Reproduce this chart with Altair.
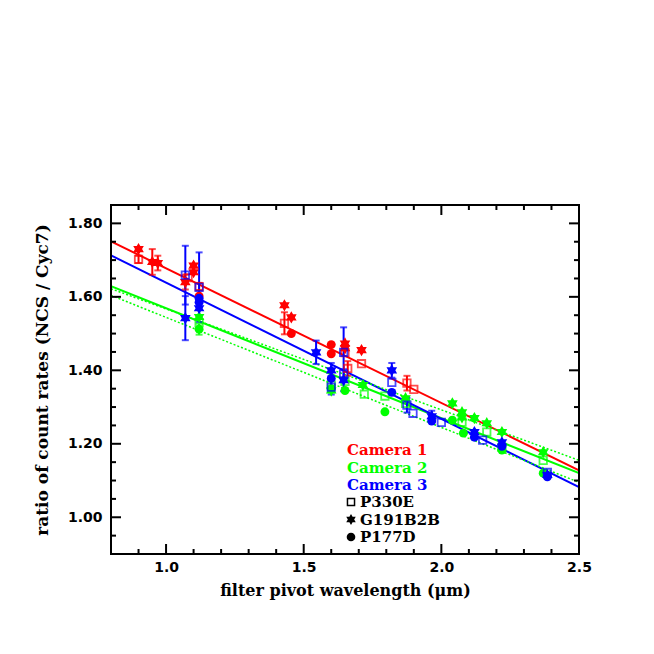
import altair as alt
import pandas as pd

# ---------------- data ----------------
cams = ["Camera 1", "Camera 2", "Camera 3"]
cam_colors = ["#ff0000", "#00ff00", "#0000ff"]
stars = ["P330E", "G191B2B", "P177D"]

# Camera 1 (red)
c1_x = [0.90, 0.90, 0.95, 0.97, 1.07, 1.08, 1.10, 1.10, 1.12, 1.12,
        1.43, 1.43, 1.455, 1.455, 1.60, 1.60, 1.65, 1.65, 1.65, 1.66,
        1.71, 1.71, 1.875, 1.90]
c1_y = [1.730, 1.702, 1.695, 1.692, 1.640, 1.652, 1.685, 1.667, 1.628, 1.602,
        1.577, 1.528, 1.544, 1.500, 1.470, 1.445, 1.473, 1.460, 1.448, 1.405,
        1.455, 1.418, 1.365, 1.348]
c1_s = ["G191B2B", "P330E", "G191B2B", "G191B2B", "G191B2B", "P330E", "G191B2B", "G191B2B", "P330E", "P177D",
        "G191B2B", "P330E", "G191B2B", "P177D", "P177D", "P177D", "G191B2B", "G191B2B", "P330E", "P330E",
        "G191B2B", "P330E", "P330E", "P330E"]
c1_e = [0.0, 0.01, 0.035, 0.02, 0.02, 0.0, 0.0, 0.0, 0.01, 0.0,
        0.0, 0.03, 0.0, 0.0, 0.0, 0.0, 0.0, 0.0, 0.0, 0.02,
        0.0, 0.0, 0.02, 0.0]

# Camera 2 (green)
c2_x = [1.12, 1.12, 1.12, 1.60, 1.60, 1.60, 1.65, 1.65, 1.715, 1.72,
        1.795, 1.795, 1.87, 1.87, 2.04, 2.04, 2.075, 2.075, 2.075, 2.08,
        2.12, 2.165, 2.165, 2.22, 2.22, 2.22, 2.37, 2.37, 2.37]
c2_y = [1.545, 1.530, 1.512, 1.360, 1.350, 1.345, 1.370, 1.345, 1.360, 1.335,
        1.330, 1.287, 1.324, 1.310, 1.310, 1.264, 1.286, 1.272, 1.259, 1.229,
        1.270, 1.256, 1.232, 1.232, 1.190, 1.183, 1.177, 1.155, 1.120]
c2_s = ["G191B2B", "P330E", "P177D", "P330E", "P177D", "G191B2B", "P330E", "P177D", "G191B2B", "P330E",
        "P330E", "P177D", "G191B2B", "P330E", "G191B2B", "P177D", "G191B2B", "G191B2B", "P330E", "P177D",
        "G191B2B", "G191B2B", "P330E", "G191B2B", "P330E", "P177D", "G191B2B", "P330E", "P177D"]
c2_e = [0.0, 0.0, 0.015, 0.02, 0.0, 0.0, 0.0, 0.0, 0.0, 0.0,
        0.0, 0.0, 0.0, 0.0, 0.0, 0.0, 0.0, 0.0, 0.0, 0.0,
        0.0, 0.0, 0.0, 0.0, 0.0, 0.0, 0.0, 0.0, 0.0]

# Camera 3 (blue)
c3_x = [1.07, 1.07, 1.12, 1.12, 1.12, 1.12, 1.545, 1.60, 1.60, 1.60,
        1.645, 1.645, 1.645, 1.82, 1.82, 1.82, 1.875, 1.897, 1.965, 1.965,
        2.00, 2.12, 2.12, 2.15, 2.22, 2.22, 2.385, 2.385, 2.385]
c3_y = [1.659, 1.542, 1.626, 1.596, 1.585, 1.569, 1.449, 1.400, 1.378, 1.354,
        1.449, 1.390, 1.373, 1.400, 1.367, 1.340, 1.305, 1.283, 1.275, 1.262,
        1.258, 1.232, 1.218, 1.210, 1.204, 1.193, 1.122, 1.115, 1.110]
c3_s = ["P330E", "G191B2B", "P330E", "P177D", "P177D", "G191B2B", "G191B2B", "G191B2B", "P177D", "P330E",
        "P330E", "P330E", "G191B2B", "G191B2B", "P330E", "P177D", "P330E", "P330E", "G191B2B", "P177D",
        "P330E", "G191B2B", "P177D", "P330E", "G191B2B", "P177D", "P330E", "G191B2B", "P177D"]
c3_e = [0.08, 0.06, 0.095, 0.0, 0.0, 0.02, 0.032, 0.02, 0.0, 0.02,
        0.068, 0.0, 0.03, 0.02, 0.0, 0.0, 0.02, 0.0, 0.015, 0.0,
        0.0, 0.0, 0.0, 0.0, 0.0, 0.0, 0.0, 0.0, 0.0]

# fitted lines (endpoints at x = 0.8 and 2.5)
fit_x = [0.8, 2.5]
fit_red = [1.751, 1.128]
fit_green = [1.629, 1.120]
fit_blue = [1.713, 1.082]
fit_green_dot_a = [1.622, 1.155]
fit_green_dot_b = [1.604, 1.095]

x_major = [1.0, 1.5, 2.0, 2.5]
x_minor = [0.9, 1.1, 1.2, 1.3, 1.4, 1.6, 1.7, 1.8, 1.9, 2.1, 2.2, 2.3, 2.4]
y_major = [1.0, 1.2, 1.4, 1.6, 1.8]
y_minor = [0.95, 1.05, 1.1, 1.15, 1.25, 1.3, 1.35, 1.45, 1.5, 1.55, 1.65, 1.7, 1.75, 1.85]

# ---------------- tables ----------------
rows = []
for cam, xs, ys, ss, es in [(cams[0], c1_x, c1_y, c1_s, c1_e),
                            (cams[1], c2_x, c2_y, c2_s, c2_e),
                            (cams[2], c3_x, c3_y, c3_s, c3_e)]:
    for xv, yv, sv, ev in zip(xs, ys, ss, es):
        rows.append({"cam": cam, "wl": xv, "ratio": yv, "star": sv, "err": ev,
                     "lo": yv - ev, "hi": yv + ev})
df = pd.DataFrame(rows)
df_err = df[df["err"] > 0]

fit_rows = []
for name, ys in [("red", fit_red), ("green", fit_green), ("blue", fit_blue)]:
    for xv, yv in zip(fit_x, ys):
        fit_rows.append({"fit": name, "wl": xv, "ratio": yv})
fits = pd.DataFrame(fit_rows)
dot_rows = []
for name, ys in [("a", fit_green_dot_a), ("b", fit_green_dot_b)]:
    for xv, yv in zip(fit_x, ys):
        dot_rows.append({"fit": name, "wl": xv, "ratio": yv})
dots = pd.DataFrame(dot_rows)

W, H = 468, 349
XS = alt.Scale(domain=[0.8, 2.5], nice=False, zero=False)
YS = alt.Scale(domain=[0.90, 1.85], nice=False, zero=False)
CS = alt.Scale(domain=cams, range=cam_colors)

FONT_T = "DejaVu Sans"
FONT_L = "DejaVu Serif"

x_axis = alt.Axis(values=x_major, format=".1f", ticks=False, tickSize=0, domain=False, grid=False,
                  labelFont=FONT_T, labelFontWeight="bold", labelFontSize=14, labelColor="black",
                  labelPadding=6, labelFlush=False,
                  title="filter pivot wavelength (\u03bcm)", titleFont=FONT_L, titleFontWeight="bold",
                  titleFontSize=16, titleColor="black", titlePadding=8)
y_axis = alt.Axis(values=y_major, format=".2f", ticks=False, tickSize=0, domain=False, grid=False,
                  labelFont=FONT_T, labelFontWeight="bold", labelFontSize=14, labelColor="black",
                  labelPadding=9, labelFlush=False,
                  title="ratio of count rates (NCS / Cyc7)", titleFont=FONT_L, titleFontWeight="bold",
                  titleFontSize=17, titleColor="black", titlePadding=16)

def X(field="wl"):
    return alt.X(f"{field}:Q", scale=XS, axis=x_axis)

def Y(field="ratio"):
    return alt.Y(f"{field}:Q", scale=YS, axis=y_axis)

lines = alt.Chart(fits).mark_line(strokeWidth=2, clip=True).encode(
    x=X(), y=Y(), detail="fit:N",
    color=alt.Color("fit:N", scale=alt.Scale(domain=["red", "green", "blue"],
                                             range=cam_colors), legend=None),
)
dotted = alt.Chart(dots).mark_line(strokeWidth=1.5, strokeDash=[2, 2], color="#00ff00", clip=True).encode(
    x=X(), y=Y(), detail="fit:N",
)

err_rule = alt.Chart(df_err).mark_rule(strokeWidth=2).encode(
    x=X(), y=Y("lo"), y2="hi:Q",
    color=alt.Color("cam:N", scale=CS, legend=None),
)
cap_lo = alt.Chart(df_err).mark_tick(orient="horizontal", size=7, thickness=2).encode(
    x=X(), y=Y("lo"), color=alt.Color("cam:N", scale=CS, legend=None),
)
cap_hi = alt.Chart(df_err).mark_tick(orient="horizontal", size=7, thickness=2).encode(
    x=X(), y=Y("hi"), color=alt.Color("cam:N", scale=CS, legend=None),
)

HEX = ("M0,-1L0.2887,-0.5L0.866,-0.5L0.5774,0L0.866,0.5L0.2887,0.5L0,1"
       "L-0.2887,0.5L-0.866,0.5L-0.5774,0L-0.866,-0.5L-0.2887,-0.5Z")

pts_layers = []
for cam in cams:
    sub = df[df["cam"] == cam]
    sq = alt.Chart(sub[sub["star"] == "P330E"]).mark_point(shape="square", filled=False, size=55, strokeWidth=1.8).encode(
        x=X(), y=Y(), color=alt.Color("cam:N", scale=CS, legend=None))
    st = alt.Chart(sub[sub["star"] == "G191B2B"]).mark_point(shape=HEX, filled=True, size=150, opacity=1).encode(
        x=X(), y=Y(), color=alt.Color("cam:N", scale=CS, legend=None))
    ci = alt.Chart(sub[sub["star"] == "P177D"]).mark_point(shape="circle", filled=True, size=80, opacity=1).encode(
        x=X(), y=Y(), color=alt.Color("cam:N", scale=CS, legend=None))
    pts_layers += [sq, st, ci]

# inward ticks on all four sides
def xticks(vals, length):
    d = pd.DataFrame({"wl": vals})
    bot = alt.Chart(d).mark_rule(color="black", strokeWidth=2).encode(
        x=X(), y=alt.value(H), y2=alt.value(H - length))
    top = alt.Chart(d).mark_rule(color="black", strokeWidth=2).encode(
        x=X(), y=alt.value(0), y2=alt.value(length))
    return [bot, top]

def yticks(vals, length):
    d = pd.DataFrame({"ratio": vals})
    left = alt.Chart(d).mark_rule(color="black", strokeWidth=2).encode(
        y=Y(), x=alt.value(0), x2=alt.value(length))
    right = alt.Chart(d).mark_rule(color="black", strokeWidth=2).encode(
        y=Y(), x=alt.value(W), x2=alt.value(W - length))
    return [left, right]

tick_layers = xticks(x_major, 10) + xticks(x_minor, 5) + yticks(y_major, 10) + yticks(y_minor, 5)

frame = alt.Chart(pd.DataFrame({"k": [0]})).mark_rect(fill=None, stroke="black", strokeWidth=2).encode(
    x=alt.value(0), x2=alt.value(W), y=alt.value(0), y2=alt.value(H))

# legend (text)
leg = []
LX = 236
for i, (lab, col) in enumerate(zip(cams, cam_colors)):
    leg.append(alt.Chart(pd.DataFrame({"t": [lab]})).mark_text(
        align="left", baseline="middle", font=FONT_L, fontWeight="bold", fontSize=15, color=col).encode(
        text="t:N", x=alt.value(LX), y=alt.value(245 + 17.5 * i)))
sym_shapes = ["square", HEX, "circle"]
sym_filled = [False, True, True]
sym_sizes = [50, 120, 75]
for i, (lab, shp, fl, sz) in enumerate(zip(stars, sym_shapes, sym_filled, sym_sizes)):
    yy = 297 + 17.5 * i
    leg.append(alt.Chart(pd.DataFrame({"t": [lab]})).mark_point(
        shape=shp, filled=fl, size=sz, color="black", strokeWidth=1.5, opacity=1).encode(
        x=alt.value(LX + 4), y=alt.value(yy)))
    leg.append(alt.Chart(pd.DataFrame({"t": [lab]})).mark_text(
        align="left", baseline="middle", font=FONT_L, fontWeight="bold", fontSize=15, color="black").encode(
        text="t:N", x=alt.value(LX + 13), y=alt.value(yy)))

chart = alt.layer(lines, dotted, err_rule, cap_lo, cap_hi, *pts_layers, *tick_layers, frame, *leg).properties(
    width=W, height=H,
    autosize="none",
    padding={"left": 103, "top": 197, "right": 67, "bottom": 92},
).configure_view(stroke=None).configure(background="white")

chart.save("out.html", embed_options={"renderer": "svg", "actions": False})
